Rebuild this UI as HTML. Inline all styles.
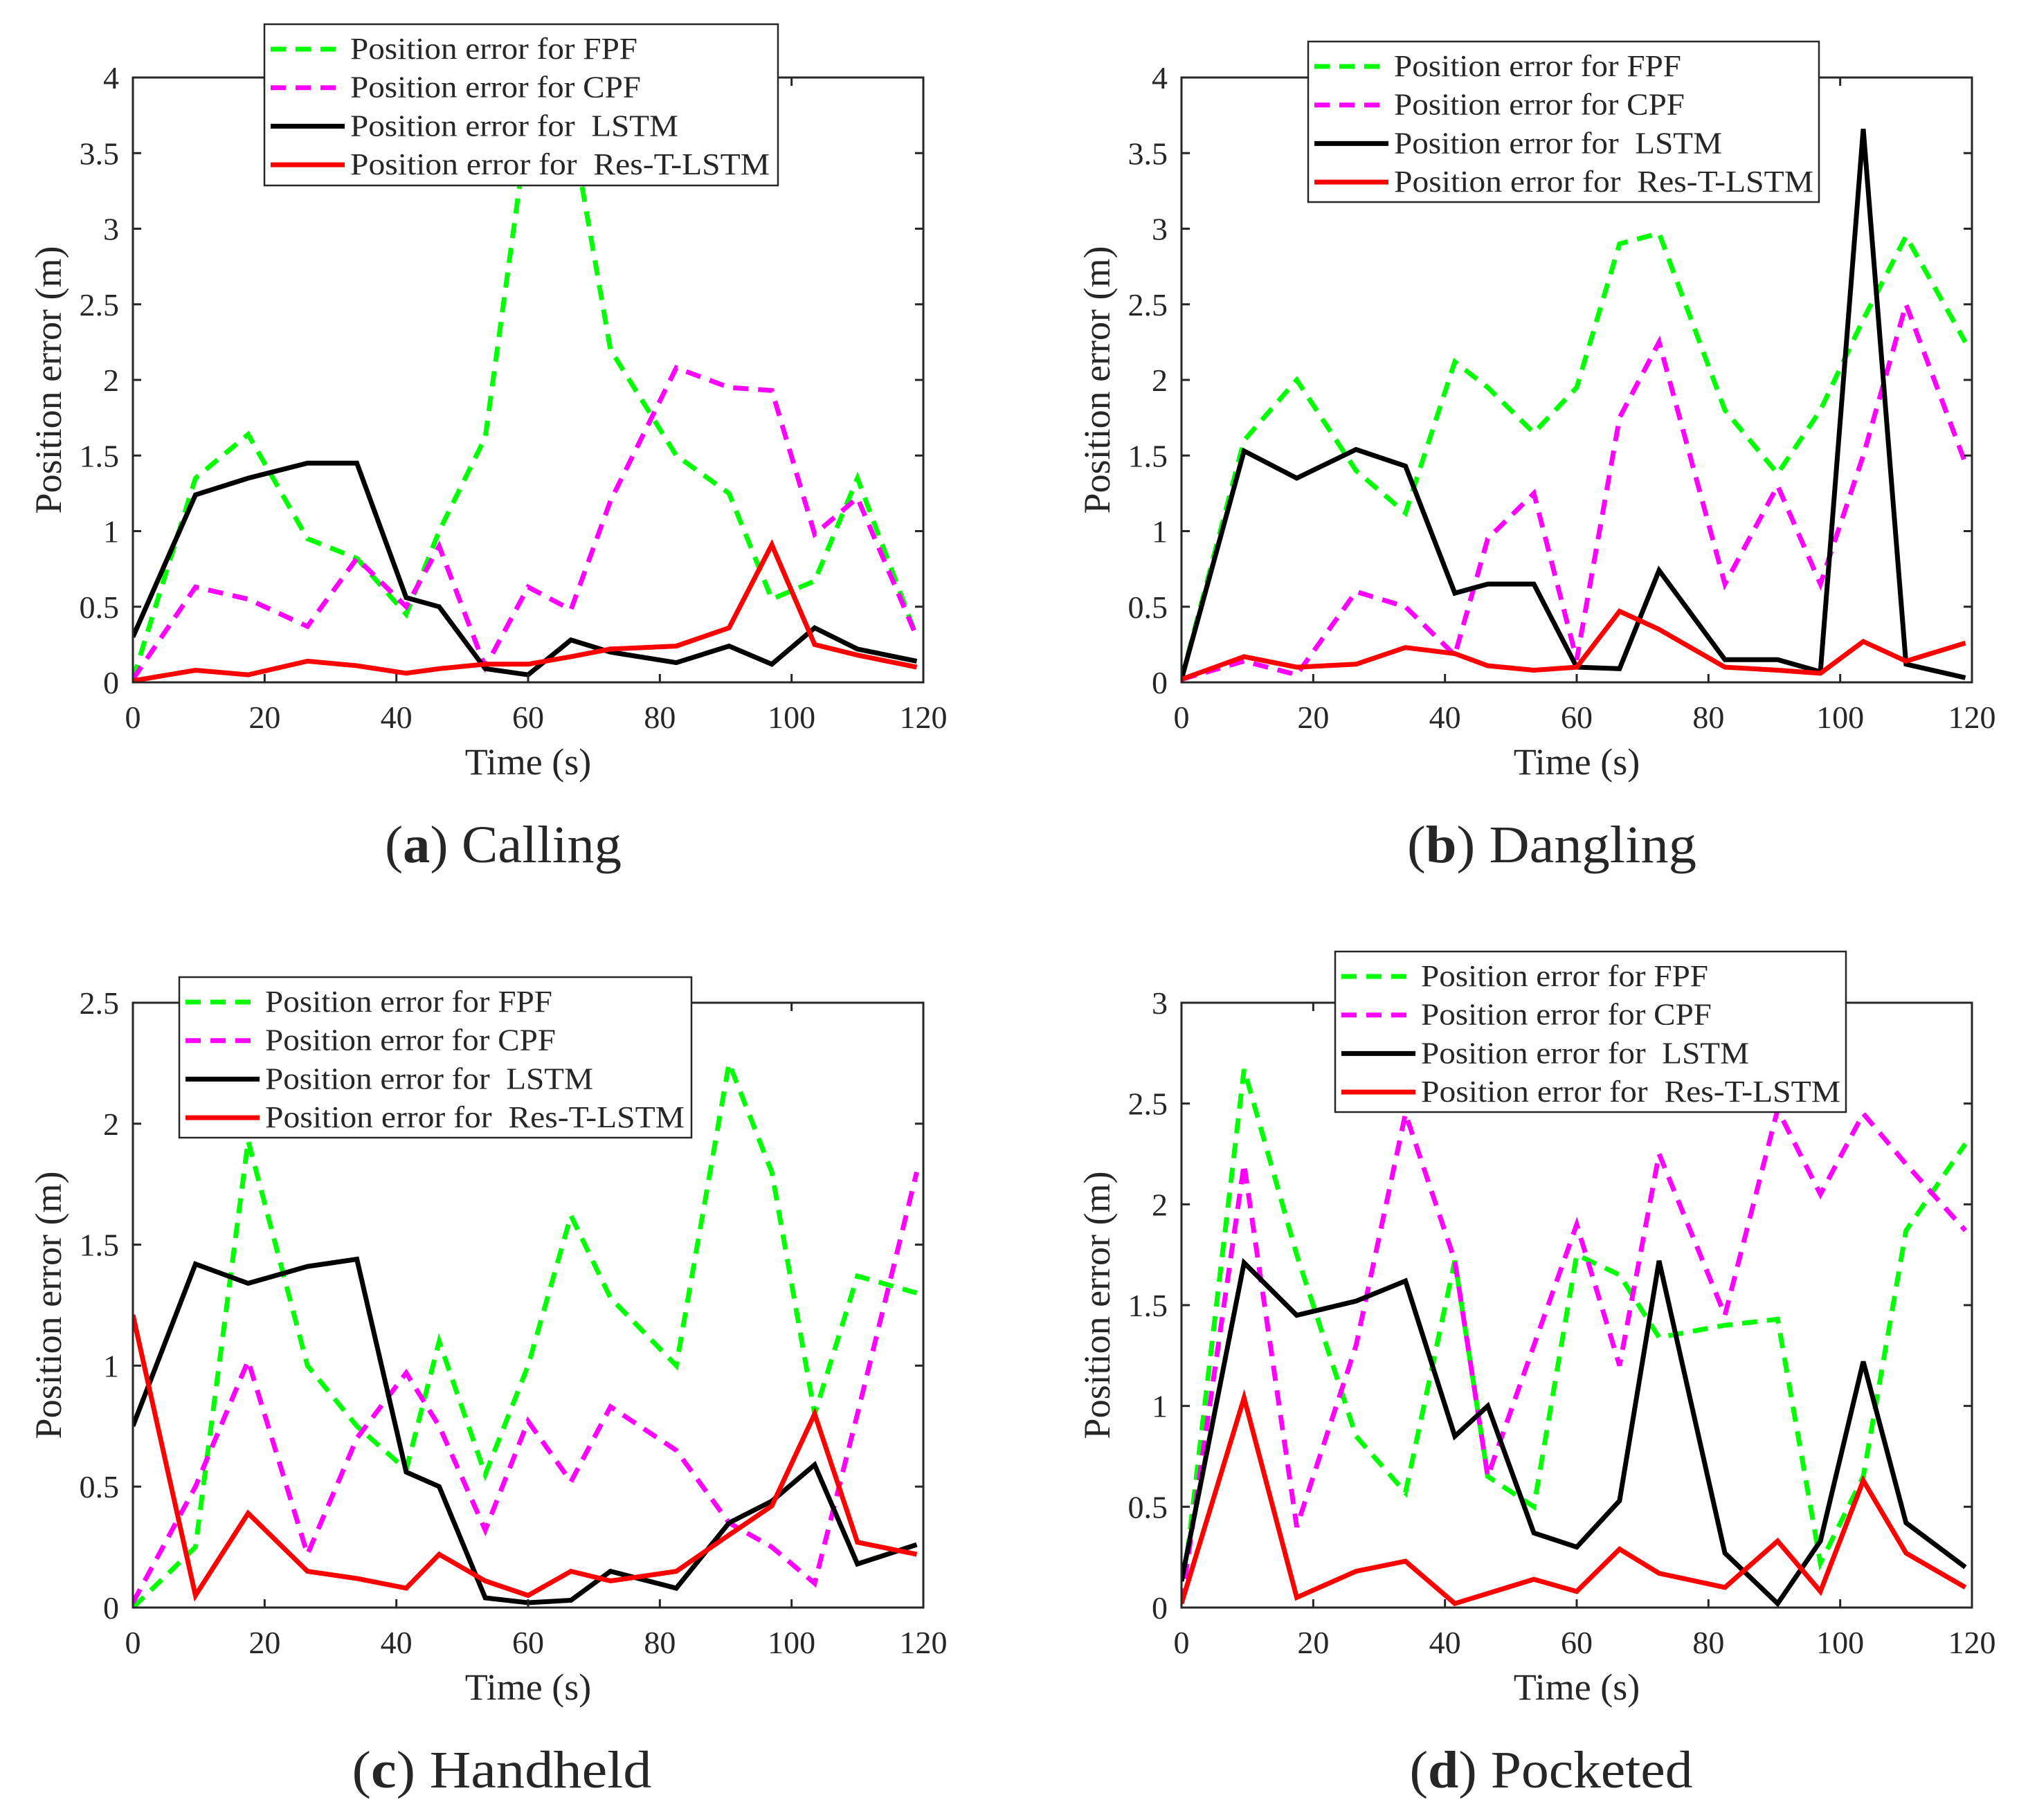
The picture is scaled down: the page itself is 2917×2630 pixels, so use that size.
<!DOCTYPE html>
<html><head><meta charset="utf-8"><style>
html,body{margin:0;padding:0;background:#fff}
svg{display:block}
text{font-family:"Liberation Serif",serif;fill:#262626}
</style></head><body>
<svg id="fig" width="2917" height="2630" viewBox="0 0 2917 2630" xmlns="http://www.w3.org/2000/svg"></svg>
<script>
const times=[0,9.5,17.5,26.5,34,41.5,46.5,53.5,60,66.5,72.5,82.5,90.5,97,103.5,110,119];
const seriesNames=["Position error for FPF","Position error for CPF","Position error for  LSTM","Position error for  Res-T-LSTM"];
const xTicks=[0,20,40,60,80,100,120];
const aFPF=[0.02,1.35,1.64,0.95,0.82,0.45,1.0,1.62,3.7,3.7,2.2,1.5,1.25,0.55,0.67,1.35,0.3];
const aCPF=[0.02,0.63,0.55,0.37,0.82,0.5,0.9,0.1,0.63,0.48,1.2,2.08,1.95,1.93,0.98,1.22,0.3];
const aLSTM=[0.3,1.24,1.35,1.45,1.45,0.56,0.5,0.09,0.05,0.28,0.2,0.13,0.24,0.12,0.36,0.22,0.14];
const aRes=[0.01,0.08,0.05,0.14,0.11,0.06,0.09,0.12,0.12,0.17,0.22,0.24,0.36,0.91,0.25,0.18,0.1];
const bFPF=[0.02,1.6,2.0,1.4,1.12,2.12,1.95,1.65,1.95,2.9,2.97,1.8,1.38,1.8,2.4,2.95,2.25];
const bCPF=[0.02,0.14,0.05,0.6,0.5,0.18,0.95,1.25,0.15,1.75,2.25,0.65,1.3,0.65,1.5,2.5,1.45];
const bLSTM=[0.02,1.53,1.35,1.54,1.43,0.59,0.65,0.65,0.1,0.09,0.74,0.15,0.15,0.07,3.66,0.12,0.03];
const bRes=[0.02,0.17,0.1,0.12,0.23,0.19,0.11,0.08,0.1,0.47,0.35,0.1,0.08,0.06,0.27,0.14,0.26];
const cFPF=[0.0,0.25,1.93,1.0,0.75,0.57,1.1,0.55,1.0,1.62,1.28,1.0,2.25,1.8,0.8,1.37,1.3];
const cCPF=[0.02,0.5,1.02,0.22,0.7,0.97,0.75,0.32,0.77,0.52,0.83,0.65,0.35,0.25,0.1,0.8,1.8];
const cLSTM=[0.75,1.42,1.34,1.41,1.44,0.56,0.5,0.04,0.02,0.03,0.15,0.08,0.35,0.44,0.59,0.18,0.26];
const cRes=[1.21,0.05,0.39,0.15,0.12,0.08,0.22,0.11,0.05,0.15,0.11,0.15,0.3,0.42,0.8,0.27,0.22];
const dFPF=[0.02,2.67,1.75,0.85,0.57,1.72,0.65,0.5,1.75,1.65,1.34,1.4,1.43,0.22,0.65,1.87,2.3];
const dCPF=[0.02,2.2,0.4,1.3,2.45,1.72,0.65,1.3,1.9,1.2,2.25,1.45,2.47,2.05,2.45,2.2,1.87];
const dLSTM=[0.13,1.71,1.45,1.52,1.62,0.85,1.0,0.37,0.3,0.53,1.72,0.27,0.02,0.33,1.22,0.42,0.2];
const dRes=[0.02,1.04,0.05,0.18,0.23,0.02,0.07,0.14,0.08,0.29,0.17,0.1,0.33,0.08,0.63,0.27,0.1];
const aYTicks=["0","0.5","1","1.5","2","2.5","3","3.5","4"];
const bYTicks=["0","0.5","1","1.5","2","2.5","3","3.5","4"];
const cYTicks=["0","0.5","1","1.5","2","2.5"];
const dYTicks=["0","0.5","1","1.5","2","2.5","3"];

const NS="http://www.w3.org/2000/svg";
const svg=document.getElementById('fig');
function mk(tag,attrs,parent){const e=document.createElementNS(NS,tag);for(const k in attrs)e.setAttribute(k,attrs[k]);(parent||svg).appendChild(e);return e;}
const styles=[{c:"#00ff00",d:"22 14"},{c:"#ff00ff",d:"22 14"},{c:"#000000",d:""},{c:"#ff0000",d:""}];
const legW=[415,420,474,606];

const panels=[
 {id:"a",cap:"Calling",cw:342,cx:727,x0:192,y0:112,ymax:4,yt:aYTicks,data:[aFPF,aCPF,aLSTM,aRes],leg:[382,35,742,233]},
 {id:"b",cap:"Dangling",cw:418,cx:2242,x0:1707,y0:112,ymax:4,yt:bYTicks,data:[bFPF,bCPF,bLSTM,bRes],leg:[1890,60,738,232]},
 {id:"c",cap:"Handheld",cw:433,cx:725,x0:192,y0:1449,ymax:2.5,yt:cYTicks,data:[cFPF,cCPF,cLSTM,cRes],leg:[259,1412,740,232]},
 {id:"d",cap:"Pocketed",cw:409,cx:2241,x0:1707,y0:1449,ymax:3,yt:dYTicks,data:[dFPF,dCPF,dLSTM,dRes],leg:[1929,1375,738,232]}
];
const W=1142,H=874;
panels.forEach(p=>{
  const g=mk('g',{});
  
  
  const xs=v=>p.x0+v/120*W, ys=v=>p.y0+H-v/p.ymax*H;
  const clip=mk('clipPath',{id:'clip'+p.id},g);
  mk('rect',{x:p.x0,y:p.y0,width:W,height:H},clip);
  p.data.forEach((arr,i)=>{
    const pts=arr.map((v,j)=>xs(times[j]).toFixed(1)+','+ys(v).toFixed(1)).join(' ');
    const pl=mk('polyline',{points:pts,fill:'none',stroke:styles[i].c,'stroke-width':7,'stroke-linejoin':'miter','clip-path':'url(#clip'+p.id+')'},g);
    if(styles[i].d)pl.setAttribute('stroke-dasharray',styles[i].d);
    
    
  });
  const box=mk('rect',{x:p.x0,y:p.y0,width:W,height:H,fill:'none',stroke:'#262626','stroke-width':3},g);
  
  
  xTicks.forEach(t=>{
    const x=xs(t);
    mk('line',{x1:x,y1:p.y0+H,x2:x,y2:p.y0+H-12,stroke:'#262626','stroke-width':3},g);
    mk('line',{x1:x,y1:p.y0,x2:x,y2:p.y0+12,stroke:'#262626','stroke-width':3},g);
    const tx=mk('text',{x:x,y:p.y0+H+66,'text-anchor':'middle','font-size':46},g);
    tx.textContent=t;
    
    
  });
  p.yt.forEach((lab,k)=>{
    const y=ys(k*0.5);
    mk('line',{x1:p.x0,y1:y,x2:p.x0+12,y2:y,stroke:'#262626','stroke-width':3},g);
    mk('line',{x1:p.x0+W,y1:y,x2:p.x0+W-12,y2:y,stroke:'#262626','stroke-width':3},g);
    const tx=mk('text',{x:p.x0-20,y:y+16,'text-anchor':'end','font-size':46},g);
    tx.textContent=lab;
    
    
  });
  const xl=mk('text',{x:p.x0+W/2,y:p.y0+H+133,'text-anchor':'middle','font-size':54},g);
  xl.textContent='Time (s)';
  
  
  const yl=mk('text',{x:0,y:0,'text-anchor':'middle','font-size':54,transform:'translate('+(p.x0-104)+','+(p.y0+H/2)+') rotate(-90)'},g);
  yl.textContent='Position error (m)';
  
  
  const cap=mk('text',{x:p.cx-p.cw/2,y:p.y0+H+260,'font-size':76,fill:'#000',textLength:p.cw,lengthAdjust:'spacingAndGlyphs'},g);
  
  
  const b=mk('tspan',{'font-weight':'bold'},cap);b.textContent=p.id;
  cap.insertBefore(document.createTextNode('('),b);
  cap.appendChild(document.createTextNode(') '+p.cap));
  const [lx,ly,lw,lh]=p.leg;
  const lg=mk('g',{},g);
  
  
  mk('rect',{x:lx,y:ly,width:lw,height:lh,fill:'#fff',stroke:'#262626','stroke-width':2.5},lg);
  seriesNames.forEach((n,i)=>{
    const y=ly+36+i*55.7;
    const ln=mk('line',{x1:lx+9,y1:y,x2:lx+116,y2:y,stroke:styles[i].c,'stroke-width':7},lg);
    if(styles[i].d)ln.setAttribute('stroke-dasharray',styles[i].d);
    const t=mk('text',{x:lx+124,y:y+14,'font-size':44,fill:'#000',textLength:legW[i],lengthAdjust:'spacingAndGlyphs'},lg);
    t.setAttributeNS('http://www.w3.org/XML/1998/namespace','xml:space','preserve');
    t.textContent=n;
    
    
  });
});
</script>
</body></html>
